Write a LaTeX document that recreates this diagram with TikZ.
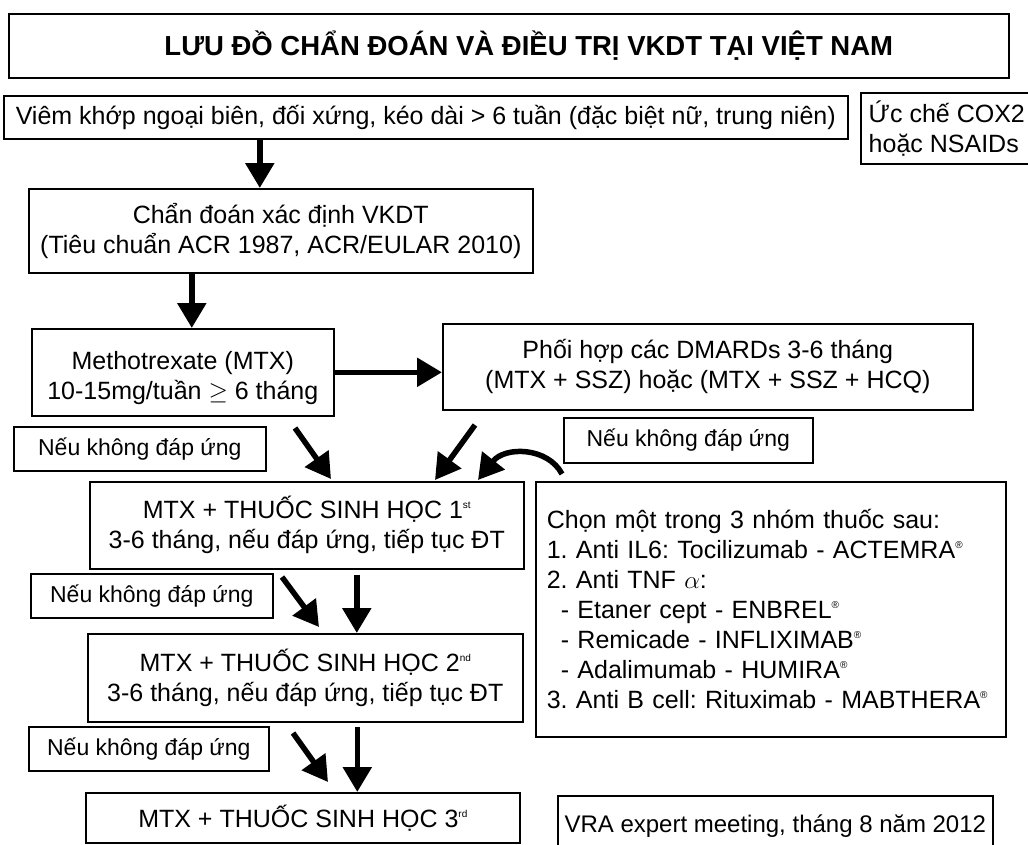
\documentclass[tikz,border=0pt]{standalone}
\usepackage{fontspec}
\setmainfont{Liberation Sans}
\usetikzlibrary{arrows.meta,positioning,calc}
\tikzset{box/.style={draw, line width=1.6pt, inner sep=0pt, align=center, anchor=north west, font=\fontsize{25}{30}\selectfont},
  note/.style={box, font=\fontsize{23}{28}\selectfont},
  arr/.style={line width=5.5pt, -{Triangle[length=25pt,width=28pt]}}}
\newcommand{\upidx}[1]{\raisebox{10pt}{\fontsize{10}{10}\selectfont #1}}

\begin{document}
\frenchspacing
\begin{tikzpicture}[x=1pt, y=-1pt]
    \useasboundingbox (0,0) rectangle (1028,844);
    \node[box, font=\bfseries\fontsize{27.5}{32}\selectfont, minimum width=1000pt, minimum height=64pt] (title) at (8,13) {\hspace*{40pt}LƯU ĐỒ CHẨN ĐOÁN VÀ ĐIỀU TRỊ VKDT TẠI VIỆT NAM};
    \node[box, minimum width=844pt, minimum height=43pt] (viem) at (3,95) {Viêm khớp ngoại biên, đối xứng, kéo dài > 6 tuần (đặc biệt nữ, trung niên)};
    \node[box, align=left, minimum width=172pt, minimum height=71pt] (cox) at (860,92) {Ức chế COX2\\hoặc NSAIDs};
    \node[box, minimum width=504pt, minimum height=84pt] (chandoan) at (28,188) {Chẩn đoán xác định VKDT\\(Tiêu chuẩn ACR 1987, ACR/EULAR 2010)};
    \node[box, minimum width=302pt, minimum height=87pt] (mtx) at (31,328) {\raisebox{-6pt}[\height][\depth]{\begin{tabular}{@{}c@{}}Methotrexate (MTX)\\10-15mg/tuần $\geq$ 6 tháng\end{tabular}}};
    \node[box, minimum width=530pt, minimum height=86pt] (phoi) at (442,323) {Phối hợp các DMARDs 3-6 tháng\\(MTX + SSZ) hoặc (MTX + SSZ + HCQ)};
    \node[note, minimum width=252pt, minimum height=44pt] (neuA) at (13,426) {Nếu không đáp ứng};
    \node[note, minimum width=249pt, minimum height=45pt] (neuB) at (563,417) {Nếu không đáp ứng};
    \node[box, minimum width=434pt, minimum height=87pt] (sinh1) at (89,481) {MTX + THUỐC SINH HỌC 1\upidx{st}\\3-6 tháng, nếu đáp ứng, tiếp tục ĐT};
    \node[box, align=left, text width=448pt, inner xsep=11pt, minimum height=255pt] (chon) at (535,481) {Chọn một trong 3 nhóm thuốc sau:\\
      1. Anti IL6: Tocilizumab - ACTEMRA\upidx{®}\\
      2. Anti TNF $\alpha$:\\
      \hspace*{14pt}- Etaner cept - ENBREL\upidx{®}\\
      \hspace*{14pt}- Remicade - INFLIXIMAB\upidx{®}\\
      \hspace*{14pt}- Adalimumab - HUMIRA\upidx{®}\\
      3. Anti B cell: Rituximab - MABTHERA\upidx{®}};
    \node[note, minimum width=242pt, minimum height=44pt] (neuC) at (30,573) {Nếu không đáp ứng};
    \node[box, minimum width=435pt, minimum height=88pt] (sinh2) at (87,633) {MTX + THUỐC SINH HỌC 2\upidx{nd}\\3-6 tháng, nếu đáp ứng, tiếp tục ĐT};
    \node[note, minimum width=240pt, minimum height=44pt] (neuD) at (28,726) {Nếu không đáp ứng};
    \node[box, minimum width=434pt, minimum height=50pt] (sinh3) at (85,792) {MTX + THUỐC SINH HỌC 3\upidx{rd}};
    \node[box, font=\fontsize{24}{29}\selectfont, minimum width=435pt, minimum height=60pt] (vra) at (557,795) {VRA expert meeting, tháng 8 năm 2012};
    % loose ends of the slanted arrows
    \coordinate (dA) at (295,428);
    \coordinate (dB) at (475,425);
    \coordinate (dC) at (562,474);
    \coordinate (dD) at (282,577);
    \coordinate (dE) at (293,733);
    \draw[arr] ([xshift=-166pt]viem.south) -- ([xshift=-166pt]viem.south |- chandoan.north);
    \draw[arr] ([xshift=-89pt]chandoan.south) -- ([xshift=-89pt]chandoan.south |- mtx.north);
    \draw[arr] (mtx.east) -- (mtx.east -| phoi.west);
    \draw[arr] (dA) -- ([xshift=242pt,yshift=2pt]sinh1.north west);
    \draw[arr] (dB) -- ([xshift=346pt,yshift=1pt]sinh1.north west);
    \draw[arr] (dC) .. controls (548,447) and (505,446) .. ([xshift=389pt,yshift=1pt]sinh1.north west);
    \draw[arr] (dD) -- ([xshift=232pt,yshift=6pt]sinh2.north west);
    \draw[arr] ([xshift=50pt,yshift=-5pt]sinh1.south) -- ([xshift=50pt]sinh1.south |- sinh2.north);
    \draw[arr] (dE) -- ([xshift=243pt,yshift=10pt]sinh3.north west);
    \draw[arr] ([xshift=52pt,yshift=-4pt]sinh2.south) -- ([xshift=52pt]sinh2.south |- sinh3.north);
\end{tikzpicture}
\end{document}
